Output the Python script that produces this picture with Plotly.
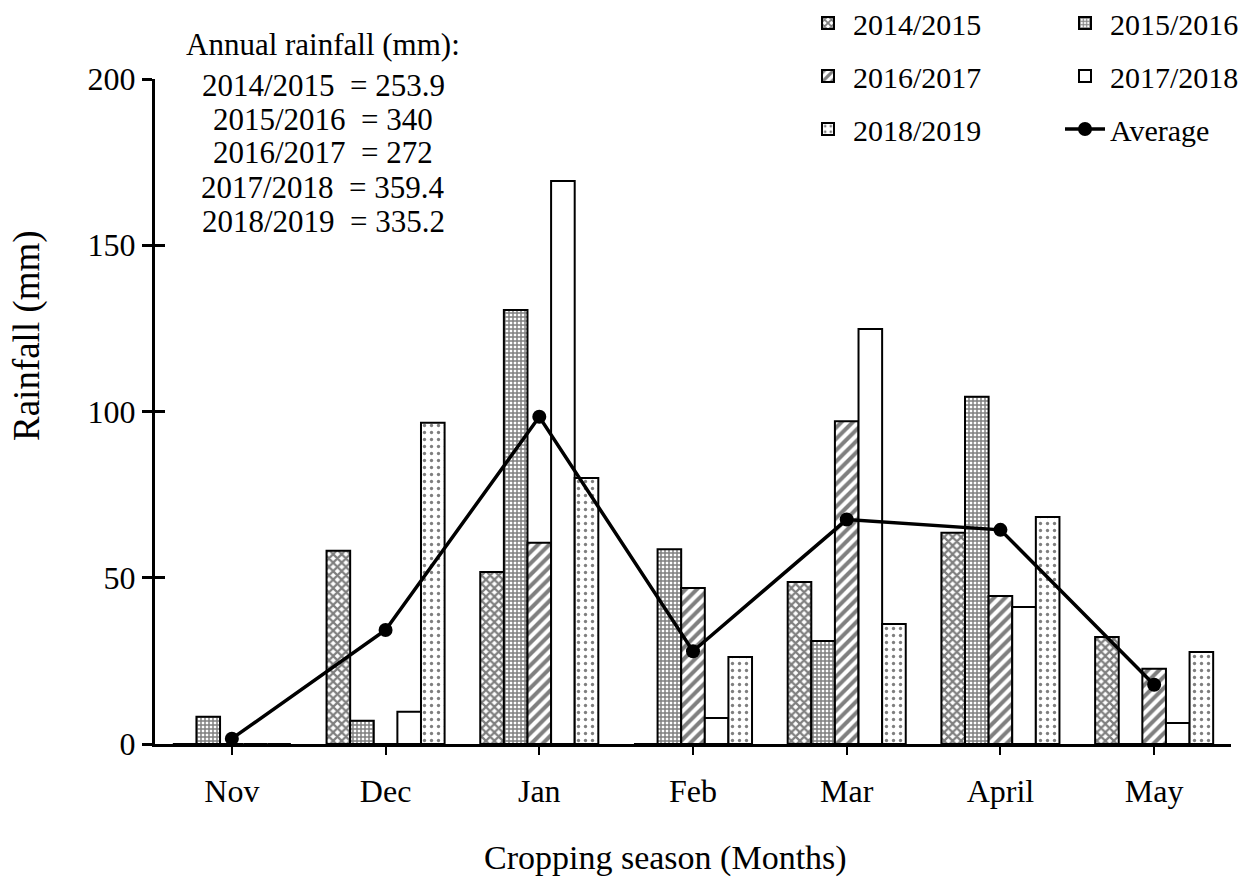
import plotly.graph_objects as go

months = ["Nov", "Dec", "Jan", "Feb", "Mar", "April", "May"]
s1415 = [0, 58.1, 51.7, 0, 48.7, 63.5, 32.2]
s1516 = [8.2, 7.0, 130.5, 58.6, 31.0, 104.4, 0]
s1617 = [0, 0, 60.5, 46.9, 97.1, 44.5, 22.6]
s1718 = [0, 9.7, 169.3, 7.8, 124.8, 41.2, 6.3]
s1819 = [0, 96.6, 80.0, 26.2, 36.1, 68.3, 27.7]
average = [1.6, 34.3, 98.4, 27.9, 67.5, 64.4, 17.8]

season_names = ["2014/2015", "2015/2016", "2016/2017", "2017/2018", "2018/2019"]
annual_totals = ["253.9", "340", "272", "359.4", "335.2"]

FONT = "Liberation Serif, Times New Roman, serif"

W, H = 1255, 882
L, R, T, B = 155, 24, 79, 138
PW, PH = W - L - R, H - T - B


def px_x(px):
    return (px - L) / PW


def px_y(py):
    return (H - B - py) / PH


fig = go.Figure()

patterns = [
    dict(shape="x", size=6, solidity=0.6, fgcolor="black", bgcolor="white"),
    dict(shape="+", size=4, solidity=0.6, fgcolor="black", bgcolor="white"),
    dict(shape="/", size=8, solidity=0.5, fgcolor="black", bgcolor="white"),
    dict(shape="", fgcolor="black", bgcolor="white"),
    dict(shape=".", size=7, solidity=0.18, fgcolor="black", bgcolor="white"),
]
legends = ["legend", "legend", "legend2", "legend2", "legend3"]
series = [s1415, s1516, s1617, s1718, s1819]

for name, vals, pat, lg in zip(season_names, series, patterns, legends):
    fig.add_trace(go.Bar(
        x=months, y=vals, name=name, legend=lg,
        marker=dict(color="white", line=dict(color="black", width=2), pattern=pat),
    ))

fig.add_trace(go.Scatter(
    x=months, y=average, name="Average", legend="legend3",
    mode="lines+markers",
    line=dict(color="black", width=3.5),
    marker=dict(color="black", size=14),
))

legend_common = dict(
    orientation="h", xanchor="left", yanchor="middle",
    xref="container", yref="container",
    font=dict(family=FONT, size=30, color="black"),
    bgcolor="rgba(0,0,0,0)", entrywidth=202, entrywidthmode="pixels",
    itemwidth=40,
)
fig.update_layout(
    legend=dict(x=803 / W, y=1 - 23 / H, **legend_common),
    legend2=dict(x=803 / W, y=1 - 76 / H, **legend_common),
    legend3=dict(x=803 / W, y=1 - 129 / H, **legend_common),
)

fig.update_layout(
    width=W, height=H,
    margin=dict(l=L, r=R, t=T, b=B, pad=0, autoexpand=False),
    paper_bgcolor="white", plot_bgcolor="white",
    barmode="group", bargap=0.232, bargroupgap=0,
    font=dict(family=FONT, size=32, color="black"),
    xaxis=dict(
        type="category", showline=True, linecolor="black", linewidth=3,
        ticks="outside", ticklen=8, tickwidth=2, tickcolor="black",
        ticklabelstandoff=9, showgrid=False, zeroline=False,
        tickfont=dict(family=FONT, size=32, color="black"),
    ),
    yaxis=dict(
        range=[0, 200], tickvals=[0, 50, 100, 150, 200],
        showline=True, linecolor="black", linewidth=3,
        ticks="outside", ticklen=10, tickwidth=3, tickcolor="black",
        showgrid=False, zeroline=False,
        tickfont=dict(family=FONT, size=32, color="black"),
    ),
    yaxis2=dict(
        range=[0, 200], tickvals=[0, 50, 100, 150, 200], overlaying="y",
        ticks="inside", ticklen=10, tickwidth=3, tickcolor="black",
        showticklabels=False, showline=False, showgrid=False, zeroline=False,
    ),
    showlegend=True,
)
# invisible trace to activate yaxis2 for the inner tick marks
fig.add_trace(go.Scatter(x=[months[0]], y=[None], yaxis="y2", showlegend=False,
                         hoverinfo="skip"))

# Axis titles
fig.add_annotation(text="Rainfall (mm)", xref="paper", yref="paper",
                   x=px_x(27), y=px_y(336), textangle=-90, showarrow=False,
                   font=dict(family=FONT, size=37, color="black"),
                   xanchor="center", yanchor="middle")
fig.add_annotation(text="Cropping season (Months)", xref="paper", yref="paper",
                   x=px_x(665), y=px_y(858), showarrow=False,
                   font=dict(family=FONT, size=34, color="black"),
                   xanchor="center", yanchor="middle")

# Annual rainfall text box
lines = ["Annual rainfall (mm):"] + [f"{n}  = {t}" for n, t in zip(season_names, annual_totals)]
line_y = [45, 85, 119, 153, 187, 222]
for txt, py in zip(lines, line_y):
    fig.add_annotation(text=txt, xref="paper", yref="paper",
                       x=px_x(323), y=px_y(py), showarrow=False,
                       font=dict(family=FONT, size=31, color="black"),
                       xanchor="center", yanchor="middle")

fig.write_html("out.html", config={"displayModeBar": False},
               post_script="document.body.style.margin='0';")
